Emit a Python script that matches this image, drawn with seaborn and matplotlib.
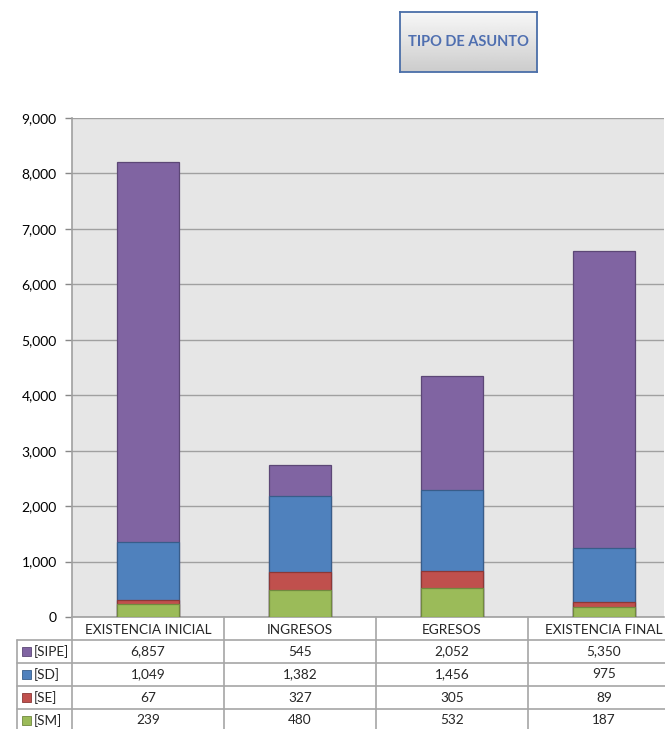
import matplotlib.pyplot as plt
import numpy as np
import pandas as pd
import seaborn as sns
from matplotlib.patches import Rectangle
from matplotlib.ticker import FuncFormatter

# data
categories = ["EXISTENCIA INICIAL", "INGRESOS", "EGRESOS", "EXISTENCIA FINAL"]
series = ["[SM]", "[SE]", "[SD]", "[SIPE]"]  # bottom to top
sm = [239, 480, 532, 187]
se = [67, 327, 305, 89]
sd = [1049, 1382, 1456, 975]
sipe = [6857, 545, 2052, 5350]

fill = {"[SM]": "#9bbb59", "[SE]": "#c0504d", "[SD]": "#4f81bd", "[SIPE]": "#8064a2"}
edge = {"[SM]": "#71893f", "[SE]": "#8c3836", "[SD]": "#385d8a", "[SIPE]": "#5c4776"}

df = pd.DataFrame({"categoria": categories, "[SM]": sm, "[SE]": se, "[SD]": sd, "[SIPE]": sipe})
cum = df[series].cumsum(axis=1)

sns.set_style("white")
plt.rcParams["font.family"] = ["Lato", "DejaVu Sans"]

W, H = 665, 729
fig = plt.figure(figsize=(W / 100, H / 100), dpi=100)

# plot area in pixels
left, right, top, bottom = 72, 664, 118, 617
step = 152  # pixels per category
ax = fig.add_axes([left / W, 1 - bottom / H, (right - left) / W, (bottom - top) / H])
ax.set_facecolor("#e6e6e6")

# stacked bars: draw cumulative totals from the top layer down
for s in reversed(series):
    sns.barplot(x=df["categoria"], y=cum[s], color=fill[s], saturation=1,
                width=62 / step, edgecolor=edge[s], linewidth=0.9, ax=ax, zorder=3)

ax.set_xlim(-0.5, -0.5 + (right - left) / step)
ax.set_ylim(0, 9000)
ax.set_yticks(np.arange(0, 9001, 1000))
ax.yaxis.set_major_formatter(FuncFormatter(lambda v, p: f"{int(v):,}"))
ax.grid(axis="y", color="#a0a0a0", linewidth=1.0, zorder=0)
ax.set_axisbelow(True)
ax.set_xticks([])
ax.set_xlabel("")
ax.set_ylabel("")
ax.tick_params(axis="y", left=True, length=5, width=1, color="#888888",
               labelsize=10, pad=6, labelcolor="#000000")
for side in ["top", "right"]:
    ax.spines[side].set_visible(False)
ax.spines["left"].set_color("#a0a0a0")
ax.spines["left"].set_linewidth(1.2)
ax.spines["bottom"].set_color("#a0a0a0")
ax.spines["bottom"].set_linewidth(1.2)

# data table below the plot, laid out in pixel units
tax = fig.add_axes([0, 0, 1, 1], facecolor="none")
tax.set_xlim(0, W)
tax.set_ylim(H, 0)
tax.axis("off")

line_c = "#a6a6a6"
header_bot = 640
row_h = 23
col_edges = [left + i * step for i in range(len(categories) + 1)]
key_left = 17

for x in col_edges:
    tax.plot([x, x], [bottom, H], color=line_c, lw=1.2)
tax.plot([key_left, key_left], [header_bot, H], color=line_c, lw=1.2)
for i in range(len(series) + 1):
    y = header_bot + i * row_h
    tax.plot([key_left, W], [y, y], color=line_c, lw=1.2)

for j, c in enumerate(categories):
    cx = left + (j + 0.5) * step
    tax.text(cx, (bottom + header_bot) / 2 + 1, c, ha="center", va="center", fontsize=9.8)

for i, s in enumerate(reversed(series)):
    cy = header_bot + (i + 0.5) * row_h
    tax.add_patch(Rectangle((22, cy - 4.5), 9, 9, facecolor=fill[s], edgecolor=edge[s], lw=0.6))
    tax.text(34, cy, s, ha="left", va="center", fontsize=9.8)
    for j, v in enumerate(df[s]):
        cx = left + (j + 0.5) * step
        tax.text(cx, cy, f"{v:,}", ha="center", va="center", fontsize=9.8)

# title box with gradient fill
bx0, bx1, by0, by1 = 400, 537, 12, 72
bax = fig.add_axes([bx0 / W, 1 - by1 / H, (bx1 - bx0) / W, (by1 - by0) / H])
grad = np.linspace(0.97, 0.80, 100).reshape(-1, 1)
bax.imshow(grad, cmap="gray", vmin=0, vmax=1, aspect="auto", extent=[0, 1, 0, 1])
bax.set_xticks([])
bax.set_yticks([])
for sp in bax.spines.values():
    sp.set_color("#4a6ea8")
    sp.set_linewidth(1.3)
bax.text(0.5, 0.5, "TIPO DE ASUNTO", ha="center", va="center", fontsize=10.5,
         fontweight="bold", color="#4f6fb0", transform=bax.transAxes)

fig.savefig("out.png", dpi=100)
